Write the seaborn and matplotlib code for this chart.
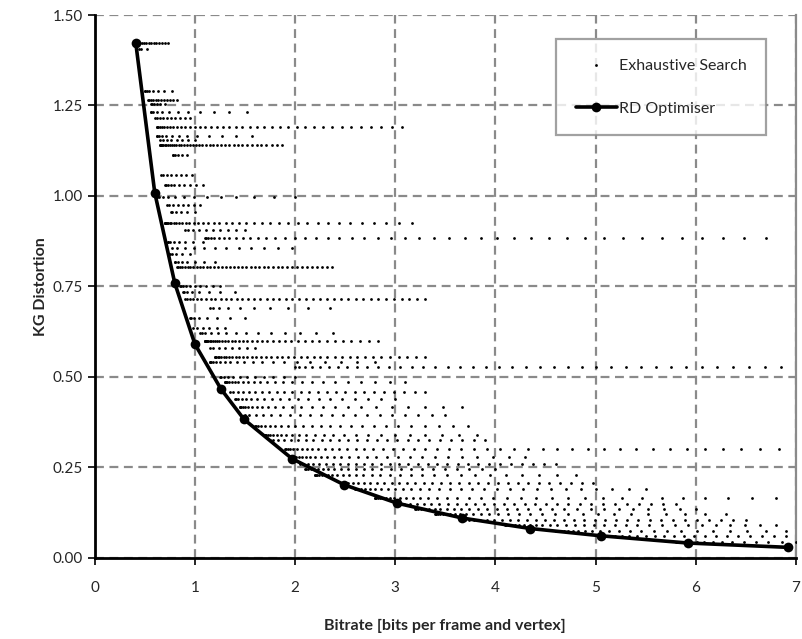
import numpy as np
import pandas as pd
import seaborn as sns
import matplotlib.pyplot as plt

sns.set_theme(style="white")
plt.rcParams["font.family"] = ["Lato", "DejaVu Sans"]

# RD optimiser operating points
rd_rate = [0.41, 0.60, 0.80, 1.00, 1.26, 1.49, 1.97, 2.49, 3.02, 3.67, 4.35, 5.05, 5.92, 6.92]
rd_dist = [1.424, 1.009, 0.759, 0.591, 0.467, 0.383, 0.274, 0.202, 0.151, 0.110, 0.081, 0.061, 0.041, 0.029]

# exhaustive search: rows of points (distortion, rate from, rate to, count)
band_dist = [1.424, 1.405, 1.29, 1.265, 1.255, 1.233, 1.215, 1.19, 1.166, 1.155,
             1.141, 1.113, 1.058, 1.03, 0.998, 0.975, 0.955, 0.925, 0.905, 0.885,
             0.874, 0.855, 0.84, 0.818, 0.805, 0.752, 0.735, 0.715, 0.69, 0.663,
             0.635, 0.62, 0.598, 0.58, 0.555, 0.54, 0.528, 0.50, 0.485, 0.457,
             0.44, 0.417, 0.395, 0.365, 0.34, 0.325, 0.30, 0.28, 0.26, 0.245,
             0.23, 0.207, 0.19, 0.166, 0.15, 0.135, 0.12, 0.105, 0.09, 0.075,
             0.06, 0.045]
band_from = [0.43, 0.44, 0.50, 0.53, 0.56, 0.56, 0.60, 0.62, 0.62, 0.65,
             0.65, 0.78, 0.66, 0.70, 0.62, 0.72, 0.76, 0.70, 0.90, 1.10,
             0.73, 0.77, 0.75, 0.80, 0.82, 0.85, 0.88, 0.90, 1.15, 0.95,
             0.98, 1.05, 1.10, 1.15, 1.20, 1.15, 2.00, 1.25, 1.30, 1.35,
             1.40, 1.45, 1.50, 1.60, 1.70, 1.75, 1.90, 1.95, 2.05, 2.10,
             2.20, 2.50, 2.60, 2.80, 3.00, 3.20, 3.40, 3.70, 4.10, 4.60,
             5.10, 5.80]
band_to = [0.73, 0.52, 0.77, 0.82, 0.70, 1.52, 0.95, 3.07, 1.57, 1.00,
           1.87, 0.92, 0.97, 1.08, 2.00, 1.05, 1.00, 3.17, 1.50, 6.70,
           1.08, 1.97, 0.95, 1.20, 2.37, 1.25, 1.40, 3.30, 2.35, 1.50,
           1.30, 2.38, 2.83, 1.60, 3.30, 2.80, 6.85, 2.00, 3.10, 3.30,
           3.00, 3.67, 3.50, 3.73, 3.82, 3.90, 6.83, 4.30, 4.60, 4.00,
           4.80, 4.97, 5.50, 6.80, 5.80, 6.00, 6.30, 6.50, 6.80, 6.90,
           6.90, 7.00]
band_count = [14, 3, 8, 12, 6, 12, 10, 40, 13, 8,
              40, 6, 8, 10, 14, 8, 6, 40, 10, 45,
              8, 12, 5, 8, 40, 10, 8, 40, 10, 8,
              6, 14, 40, 8, 40, 20, 40, 12, 25, 25,
              20, 25, 20, 25, 25, 25, 45, 30, 30, 25,
              30, 30, 30, 35, 30, 30, 30, 30, 30, 25,
              20, 15]
# how strongly each row bunches up next to the optimiser curve
band_skew = [1.3, 1.7, 2.1]

rows = []
for i, (d, a, b, n) in enumerate(zip(band_dist, band_from, band_to, band_count)):
    t = np.linspace(0, 1, n) ** band_skew[i % 3]
    for x in a + (b - a) * t:
        rows.append((x, d))
search = pd.DataFrame(rows, columns=["rate", "dist"])
rd = pd.DataFrame({"rate": rd_rate, "dist": rd_dist})

fig, ax = plt.subplots(figsize=(8.02, 6.39), dpi=100)
fig.subplots_adjust(left=0.118, right=0.9925, bottom=0.127, top=0.9765)

sns.scatterplot(data=search, x="rate", y="dist", ax=ax, color="black", s=4,
                marker="o", linewidth=0, label="Exhaustive Search", zorder=3)
sns.lineplot(data=rd, x="rate", y="dist", ax=ax, color="black", lw=2.6,
             marker="o", markersize=7, markeredgewidth=0, sort=False,
             label="RD Optimiser", zorder=4)

ax.set_xlim(0, 7)
ax.set_ylim(0, 1.5)
ax.set_xticks(range(8))
ax.set_yticks(np.arange(0, 1.51, 0.25))
ax.set_yticklabels([f"{v:.2f}" for v in np.arange(0, 1.51, 0.25)])
ax.grid(True, color="#8a8a8a", linestyle=(0, (4, 2.5)), linewidth=1.6)
ax.set_axisbelow(True)
ax.tick_params(axis="both", direction="out", length=5, width=1.2, color="black",
               labelsize=11, bottom=True, left=True)
ax.tick_params(axis="x", pad=12)
for s in ["left", "bottom"]:
    ax.spines[s].set_color("black")
    ax.spines[s].set_linewidth(2)
ax.spines["top"].set_visible(False)
ax.spines["right"].set_color("#8a8a8a")
ax.spines["right"].set_linewidth(1.6)

ax.set_xlabel("Bitrate [bits per frame and vertex]", fontsize=11.5, fontweight="bold", labelpad=17)
ax.set_ylabel("KG Distortion", fontsize=11.5, fontweight="bold", labelpad=3)

leg = ax.legend(loc="upper right", bbox_to_anchor=(0.968, 0.97), frameon=True, fancybox=False,
                fontsize=11.5, labelspacing=1.8, handlelength=2.6, handletextpad=0.1,
                borderpad=1.2, markerscale=1.0)
leg.get_frame().set_edgecolor("#8a8a8a")
leg.get_frame().set_linewidth(1.6)

plt.savefig("out.png", dpi=100)
